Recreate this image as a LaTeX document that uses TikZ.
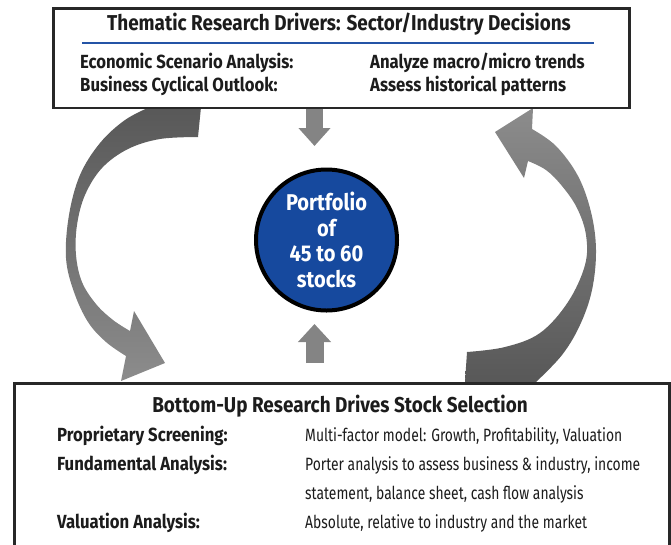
\documentclass[tikz,border=0pt]{standalone}
\usepackage{fontspec}
\setmainfont{Fira Sans}[FakeStretch=0.88]
\newfontfamily\descfont{Fira Sans}[FakeStretch=0.78]
\usetikzlibrary{arrows.meta}

\definecolor{ink}{RGB}{28,28,28}
\definecolor{boxline}{RGB}{40,40,40}
\definecolor{rulerblue}{RGB}{36,84,166}
\definecolor{hubblue}{RGB}{22,73,158}
\definecolor{arrowgray}{RGB}{132,132,132}
\definecolor{ribbondark}{RGB}{88,88,88}
\definecolor{ribbonlight}{RGB}{140,140,140}

\begin{document}
\begin{tikzpicture}[
    x=1pt, y=-1pt,
    box/.style={draw=boxline, fill=white, line width=2.5pt, inner sep=0pt, anchor=north west},
    heading/.style={font=\bfseries\fontsize{21.5}{24}\selectfont, text=ink, anchor=base, inner sep=0pt},
    lbl/.style={font=\bfseries\fontsize{19}{21}\selectfont, text=ink, anchor=base west, inner sep=0pt},
    desc/.style={font=\descfont\fontsize{17.8}{21}\selectfont, text=ink, anchor=base west, inner sep=0pt},
    hub/.style={circle, draw=black, line width=4pt, fill=hubblue, text=white, minimum size=141pt, inner sep=0pt, align=center, font=\bfseries\fontsize{22.8}{25.7}\selectfont},
    fatarrow/.style={draw=arrowgray, line width=17pt, -{Triangle[width=31pt,length=18pt]}}
]
    \useasboundingbox (0,0) rectangle (671,544);

    % Curved feedback ribbons
    \shade[top color=ribbondark, bottom color=ribbonlight]
        (150,107) -- (201,107) -- (198,137)
        -- plot[smooth, tension=0.6] coordinates {(198,137) (160,139) (128,149) (102,168) (85,195) (77,225) (76,255) (82,282) (96,304) (113,320) (130,331)}
        -- (134,311) -- (165,363) -- (121,381)
        -- plot[smooth, tension=0.6] coordinates {(126,356) (106,342) (88,322) (74,292) (66,258) (69,215) (80,175) (100,143) (125,120) (150,107)}
        -- cycle;
    \shade[top color=ribbonlight, bottom color=ribbondark]
        (465,382) -- (467,352)
        -- plot[smooth, tension=0.6] coordinates {(467,352) (505,347) (540,333) (568,302) (585,265) (586,235) (577,208) (562,186) (546,170) (528,161)}
        -- (524,178) -- (495,132) -- (533,108)
        -- plot[smooth, tension=0.6] coordinates {(532,129) (556,146) (578,176) (591,212) (596,250) (592,290) (580,325) (562,355) (536,382)}
        -- cycle;

    % Boxes and hub
    \node[box, minimum width=576pt, minimum height=99.5pt] (thematic) at (52,7) {};
    \node[box, minimum width=655pt, minimum height=200pt] (bottomup) at (13,382) {};
    \node[hub] (portfolio) at (326.5,240) {Portfolio\\of\\45 to 60\\stocks};

    % Top-down drivers
    \node[heading] (thematictitle) at (339,30) {Thematic Research Drivers: Sector/Industry Decisions};
    \draw[rulerblue, line width=2.5pt] (82,43) -- (594,43);
    \node[lbl] (econ) at (80,68) {Economic Scenario Analysis:};
    \node[lbl] (cycle) at (80,91) {Business Cyclical Outlook:};
    \node[lbl] (trends) at (econ.base -| 370,0) {Analyze macro/micro trends};
    \node[lbl] (patterns) at (cycle.base -| 370,0) {Assess historical patterns};

    % Bottom-up selection
    \node[heading] (bottomtitle) at (340,412) {Bottom-Up Research Drives Stock Selection};
    \node[lbl] (screen) at (57,441) {Proprietary Screening:};
    \node[lbl] (fund) at (57,470) {Fundamental Analysis:};
    \node[lbl] (valu) at (57,528) {Valuation Analysis:};
    \node[desc] (screendesc) at (screen.base -| 305,0) {Multi-factor model: Growth, Profitability, Valuation};
    \node[desc] (funddesc) at (fund.base -| 305,0) {Porter analysis to assess business \& industry, income};
    \node[desc] (funddesc2) at (305,499) {statement, balance sheet, cash flow analysis};
    \node[desc] (valudesc) at (valu.base -| 305,0) {Absolute, relative to industry and the market};

    % Straight arrows into the hub
    \draw[fatarrow] ([xshift=-12pt]portfolio.north |- thematic.south) -- ([xshift=-12pt, yshift=21.5pt]portfolio.north);
    \draw[fatarrow, line width=18pt, -{Triangle[width=32pt,length=18pt]}] ([xshift=-12pt, yshift=19pt]portfolio.south |- bottomup.north) -- ([xshift=-12pt, yshift=-11.5pt]portfolio.south);

\end{tikzpicture}
\end{document}
